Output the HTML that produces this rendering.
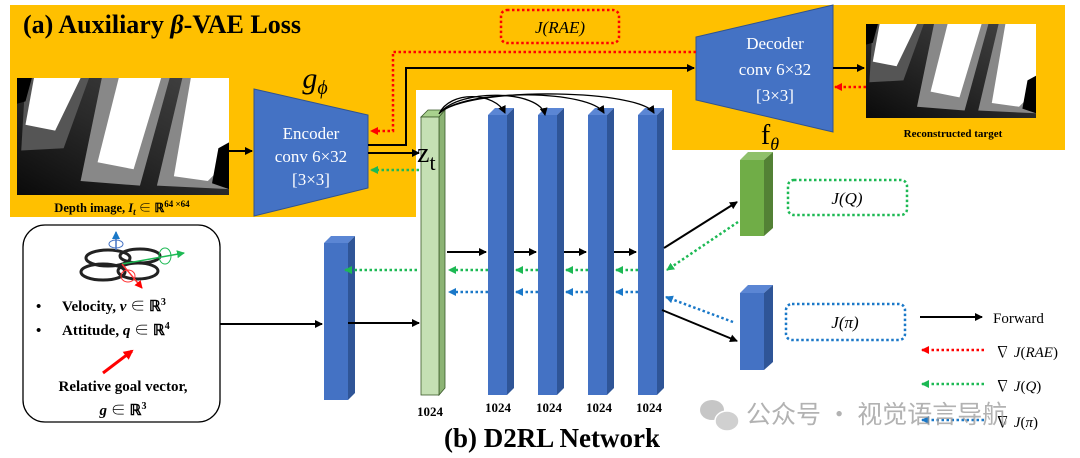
<!DOCTYPE html>
<html><head><meta charset="utf-8"><style>
html,body{margin:0;padding:0;background:#fff;}
svg{display:block;font-family:"Liberation Serif","Noto Serif CJK SC",serif;}
</style></head><body>
<svg width="1080" height="458" viewBox="0 0 1080 458" xmlns="http://www.w3.org/2000/svg">
<defs>
<marker id="ab" markerWidth="8" markerHeight="8" refX="7" refY="4" orient="auto" markerUnits="userSpaceOnUse"><path d="M0,0 L8,4 L0,8 z" fill="#000"/></marker>
<marker id="ar" markerWidth="8" markerHeight="8" refX="7" refY="4" orient="auto" markerUnits="userSpaceOnUse"><path d="M0,0 L8,4 L0,8 z" fill="#f00"/></marker>
<marker id="ag" markerWidth="8" markerHeight="8" refX="7" refY="4" orient="auto" markerUnits="userSpaceOnUse"><path d="M0,0 L8,4 L0,8 z" fill="#1db954"/></marker>
<marker id="au" markerWidth="8" markerHeight="8" refX="7" refY="4" orient="auto" markerUnits="userSpaceOnUse"><path d="M0,0 L8,4 L0,8 z" fill="#1a78c8"/></marker>
<marker id="ared" markerWidth="10" markerHeight="10" refX="8" refY="5" orient="auto" markerUnits="userSpaceOnUse"><path d="M0,0 L10,5 L0,10 z" fill="#f00"/></marker>
<linearGradient id="dg" x1="0" y1="1" x2="1" y2="0"><stop offset="0" stop-color="#0a0a0a"/><stop offset="0.5" stop-color="#2a2a2a"/><stop offset="1" stop-color="#444"/></linearGradient>
<g id="depth">
<rect x="0" y="0" width="100" height="100" fill="url(#dg)"/>
<polygon points="4,0 34,0 22,60 2,62" fill="#555"/>
<polygon points="8,0 30,0 18,45 4,40" fill="#fff"/>
<polygon points="40,0 72,0 58,92 30,88" fill="#888"/>
<polygon points="48,0 68,0 55,78 38,72" fill="#fff"/>
<polygon points="78,0 100,0 100,95 66,92" fill="#888"/>
<polygon points="82,0 100,0 100,70 90,88 74,84" fill="#fff"/>
<polygon points="0,0 7,0 4,20 0,22" fill="#000"/>
<polygon points="95,60 100,55 100,95 92,90" fill="#000"/>
</g>
</defs>

<polygon points="10,5 1065,5 1065,150 672,150 672,90 416,90 416,217 10,217" fill="#ffc000"/>

<text x="23" y="33" font-size="26" font-weight="bold">(a) Auxiliary <tspan font-style="italic">β</tspan>-VAE Loss</text>

<g transform="translate(17,78) scale(2.12,1.17)"><use href="#depth"/></g>
<text x="122" y="212" font-size="12.5" font-weight="bold" text-anchor="middle">Depth image, <tspan font-style="italic">I<tspan font-size="9" dy="3">t</tspan></tspan><tspan dy="-3"> ∈ ℝ</tspan><tspan font-size="9" dy="-5">64 ×64</tspan></text>

<polygon points="254,89 368,115 368,188 254,216" fill="#4472c4" stroke="#2f528f" stroke-width="1"/>
<text x="311" y="139" font-size="17" fill="#fff" text-anchor="middle">Encoder</text>
<text x="311" y="162" font-size="17" fill="#fff" text-anchor="middle">conv 6×32</text>
<text x="311" y="185" font-size="17" fill="#fff" text-anchor="middle">[3×3]</text>
<text x="315" y="88" font-size="30" font-style="italic" text-anchor="middle">g<tspan font-size="20" dy="6">ϕ</tspan></text>
<line x1="229" y1="151" x2="252" y2="151" stroke="#000" stroke-width="2" marker-end="url(#ab)"/>

<polygon points="696,37 833,5 833,132 696,100" fill="#4472c4" stroke="#2f528f" stroke-width="1"/>
<text x="775" y="49" font-size="17" fill="#fff" text-anchor="middle">Decoder</text>
<text x="775" y="75" font-size="17" fill="#fff" text-anchor="middle">conv 6×32</text>
<text x="775" y="101" font-size="17" fill="#fff" text-anchor="middle">[3×3]</text>
<text x="770" y="144" font-size="28" text-anchor="middle">f<tspan font-size="18" font-style="italic" dy="6">θ</tspan></text>

<g transform="translate(866,24) scale(1.7,0.94)"><use href="#depth"/></g>
<text x="953" y="137" font-size="11" font-weight="bold" text-anchor="middle">Reconstructed target</text>
<line x1="833" y1="68" x2="864" y2="68" stroke="#000" stroke-width="2" marker-end="url(#ab)"/>
<line x1="866" y1="87" x2="835" y2="87" stroke="#f00" stroke-width="2.5" stroke-dasharray="2.5,2.5" marker-end="url(#ar)"/>

<rect x="501" y="10" width="118" height="33" rx="6" fill="none" stroke="#f00" stroke-width="2.5" stroke-dasharray="2.5,2.5"/>
<text x="560" y="33" font-size="17" font-style="italic" text-anchor="middle">J(RAE)</text>

<polyline points="696,52 393,52 393,131 371,131" fill="none" stroke="#f00" stroke-width="2.5" stroke-dasharray="2.5,2.5" marker-end="url(#ar)"/>
<polyline points="368,145 406,145 406,68 694,68" fill="none" stroke="#000" stroke-width="2" marker-end="url(#ab)"/>
<line x1="368" y1="153" x2="419" y2="153" stroke="#000" stroke-width="2" marker-end="url(#ab)"/>
<line x1="419" y1="170" x2="371" y2="170" stroke="#1db954" stroke-width="2.5" stroke-dasharray="2.5,2.5" marker-end="url(#ag)"/>

<polygon points="421,117 428,110 445,110 439,117" fill="#a9d18e" stroke="#3a5a2a" stroke-width="0.8"/>
<polygon points="439,117 445,110 445,388 439,395" fill="#8cb374" stroke="#3a5a2a" stroke-width="0.8"/>
<rect x="421" y="117" width="18" height="278" fill="#c5e0b4" stroke="#3a5a2a" stroke-width="0.8"/>
<text x="417" y="162" font-size="28">z<tspan font-size="22" dy="8">t</tspan></text>
<text x="430" y="416" font-size="13" font-weight="bold" text-anchor="middle">1024</text>

<g fill="#4472c4">
<g id="bb">
<polygon points="488,115 495,108 514,108 507,115" fill="#5b86d4"/>
<polygon points="507,115 514,108 514,388 507,395" fill="#2f5597"/>
<rect x="488" y="115" width="19" height="280"/>
</g>
<use href="#bb" x="50"/>
<use href="#bb" x="100"/>
<use href="#bb" x="150"/>
</g>
<g font-size="13" font-weight="bold" text-anchor="middle">
<text x="498" y="412">1024</text><text x="549" y="412">1024</text><text x="599" y="412">1024</text><text x="649" y="412">1024</text>
</g>

<g fill="none" stroke="#000" stroke-width="1.3">
<path d="M439,114 C450,90 495,92 505,113" marker-end="url(#ab)"/>
<path d="M440,113 C460,88 540,90 545,115" marker-end="url(#ab)"/>
<path d="M441,112 C470,88 590,90 604,113" marker-end="url(#ab)"/>
<path d="M442,111 C480,86 640,90 654,113" marker-end="url(#ab)"/>
</g>

<!-- small input bar -->
<polygon points="324,243 331,236 355,236 348,243" fill="#5b86d4"/>
<polygon points="348,243 355,236 355,393 348,400" fill="#2f5597"/>
<rect x="324" y="243" width="24" height="157" fill="#4472c4"/>
<line x1="220" y1="324" x2="322" y2="324" stroke="#000" stroke-width="2" marker-end="url(#ab)"/>
<line x1="348" y1="323" x2="419" y2="323" stroke="#000" stroke-width="2" marker-end="url(#ab)"/>

<g stroke="#000" stroke-width="2">
<line x1="447" y1="252" x2="486" y2="252" marker-end="url(#ab)"/>
<line x1="514" y1="252" x2="536" y2="252" marker-end="url(#ab)"/>
<line x1="564" y1="252" x2="586" y2="252" marker-end="url(#ab)"/>
<line x1="614" y1="252" x2="636" y2="252" marker-end="url(#ab)"/>
</g>
<g stroke="#1db954" stroke-width="2.5" stroke-dasharray="2.5,2.5">
<line x1="488" y1="270" x2="449" y2="270" marker-end="url(#ag)"/>
<line x1="538" y1="270" x2="516" y2="270" marker-end="url(#ag)"/>
<line x1="588" y1="270" x2="566" y2="270" marker-end="url(#ag)"/>
<line x1="638" y1="270" x2="616" y2="270" marker-end="url(#ag)"/>
<line x1="417" y1="270" x2="345" y2="270" marker-end="url(#ag)"/>
</g>
<g stroke="#1a78c8" stroke-width="2.5" stroke-dasharray="2.5,2.5">
<line x1="488" y1="292" x2="449" y2="292" marker-end="url(#au)"/>
<line x1="538" y1="292" x2="516" y2="292" marker-end="url(#au)"/>
<line x1="588" y1="292" x2="566" y2="292" marker-end="url(#au)"/>
<line x1="638" y1="292" x2="616" y2="292" marker-end="url(#au)"/>
</g>

<polygon points="740,160 748,152 773,152 764,160" fill="#8fc06b"/>
<polygon points="764,160 773,152 773,228 764,236" fill="#538135"/>
<rect x="740" y="160" width="24" height="76" fill="#70ad47"/>
<polygon points="740,293 748,285 773,285 764,293" fill="#5b86d4"/>
<polygon points="764,293 773,285 773,362 764,370" fill="#2f5597"/>
<rect x="740" y="293" width="24" height="77" fill="#4472c4"/>

<line x1="664" y1="248" x2="737" y2="202" stroke="#000" stroke-width="2" marker-end="url(#ab)"/>
<line x1="738" y1="222" x2="667" y2="270" stroke="#1db954" stroke-width="2.5" stroke-dasharray="2.5,2.5" marker-end="url(#ag)"/>
<line x1="733" y1="322" x2="666" y2="297" stroke="#1a78c8" stroke-width="2.5" stroke-dasharray="2.5,2.5" marker-end="url(#au)"/>
<line x1="662" y1="310" x2="737" y2="341" stroke="#000" stroke-width="2" marker-end="url(#ab)"/>

<rect x="788" y="180" width="119" height="35" rx="6" fill="none" stroke="#1db954" stroke-width="2.5" stroke-dasharray="2.5,2.5"/>
<text x="847" y="204" font-size="17" font-style="italic" text-anchor="middle">J(Q)</text>
<rect x="786" y="304" width="119" height="36" rx="6" fill="none" stroke="#1a78c8" stroke-width="2.5" stroke-dasharray="2.5,2.5"/>
<text x="845" y="328" font-size="17" font-style="italic" text-anchor="middle">J(π)</text>

<line x1="920" y1="317" x2="982" y2="317" stroke="#000" stroke-width="2" marker-end="url(#ab)"/>
<text x="993" y="323" font-size="15">Forward</text>
<line x1="984" y1="350" x2="922" y2="350" stroke="#f00" stroke-width="2.5" stroke-dasharray="2.5,2.5" marker-end="url(#ar)"/>
<text x="995" y="357" font-size="15">∇ <tspan font-style="italic">J</tspan>(<tspan font-style="italic">RAE</tspan>)</text>
<line x1="984" y1="384" x2="922" y2="384" stroke="#1db954" stroke-width="2.5" stroke-dasharray="2.5,2.5" marker-end="url(#ag)"/>
<text x="995" y="391" font-size="15">∇ <tspan font-style="italic">J</tspan>(<tspan font-style="italic">Q</tspan>)</text>
<line x1="984" y1="420" x2="922" y2="420" stroke="#1a78c8" stroke-width="2.5" stroke-dasharray="2.5,2.5" marker-end="url(#au)"/>
<text x="995" y="427" font-size="15">∇ <tspan font-style="italic">J</tspan>(<tspan font-style="italic">π</tspan>)</text>

<rect x="23" y="225" width="197" height="197" rx="22" fill="#fff" stroke="#000" stroke-width="1.3"/>
<g fill="none" stroke-width="3">
<ellipse cx="108" cy="258" rx="22" ry="8" stroke="#222"/>
<ellipse cx="140" cy="256" rx="20" ry="7" stroke="#222"/>
<ellipse cx="103" cy="272" rx="22" ry="8" stroke="#222"/>
<ellipse cx="138" cy="271" rx="20" ry="8" stroke="#222"/>
</g>
<line x1="116" y1="250" x2="116" y2="232" stroke="#4472c4" stroke-width="1.5" marker-end="url(#au)"/>
<ellipse cx="116" cy="244" rx="7" ry="4" fill="none" stroke="#4472c4" stroke-width="1"/>
<line x1="122" y1="264" x2="184" y2="253" stroke="#1db954" stroke-width="1.5" marker-end="url(#ag)"/>
<ellipse cx="165" cy="256" rx="6" ry="8" fill="none" stroke="#1db954" stroke-width="1"/>
<line x1="122" y1="264" x2="142" y2="288" stroke="#f33" stroke-width="1.5" marker-end="url(#ar)"/>
<ellipse cx="128" cy="276" rx="7" ry="6" fill="none" stroke="#f33" stroke-width="1"/>

<g font-size="15" font-weight="bold">
<text x="36" y="311">•</text><text x="62" y="311">Velocity, <tspan font-style="italic">v</tspan> ∈ ℝ<tspan font-size="10" dy="-6">3</tspan></text>
<text x="36" y="335">•</text><text x="62" y="335">Attitude, <tspan font-style="italic">q</tspan> ∈ ℝ<tspan font-size="10" dy="-6">4</tspan></text>
<text x="123" y="391" text-anchor="middle">Relative goal vector,</text>
<text x="123" y="415" text-anchor="middle"><tspan font-style="italic">g</tspan> ∈ ℝ<tspan font-size="10" dy="-6">3</tspan></text>
</g>
<line x1="103" y1="373" x2="132" y2="351" stroke="#f00" stroke-width="3" marker-end="url(#ared)"/>

<text x="552" y="447" font-size="27" font-weight="bold" text-anchor="middle">(b) D2RL Network</text>

<g opacity="0.55">
<ellipse cx="712" cy="410" rx="12" ry="10" fill="#999"/>
<ellipse cx="727" cy="421" rx="12" ry="10" fill="#aaa" stroke="#fff" stroke-width="1.5"/>
</g>
<text x="746" y="423" font-size="25" fill="#999" opacity="0.75" font-family="'Noto Sans CJK SC',sans-serif">公众号 · 视觉语言导航</text>
</svg>
</body></html>
